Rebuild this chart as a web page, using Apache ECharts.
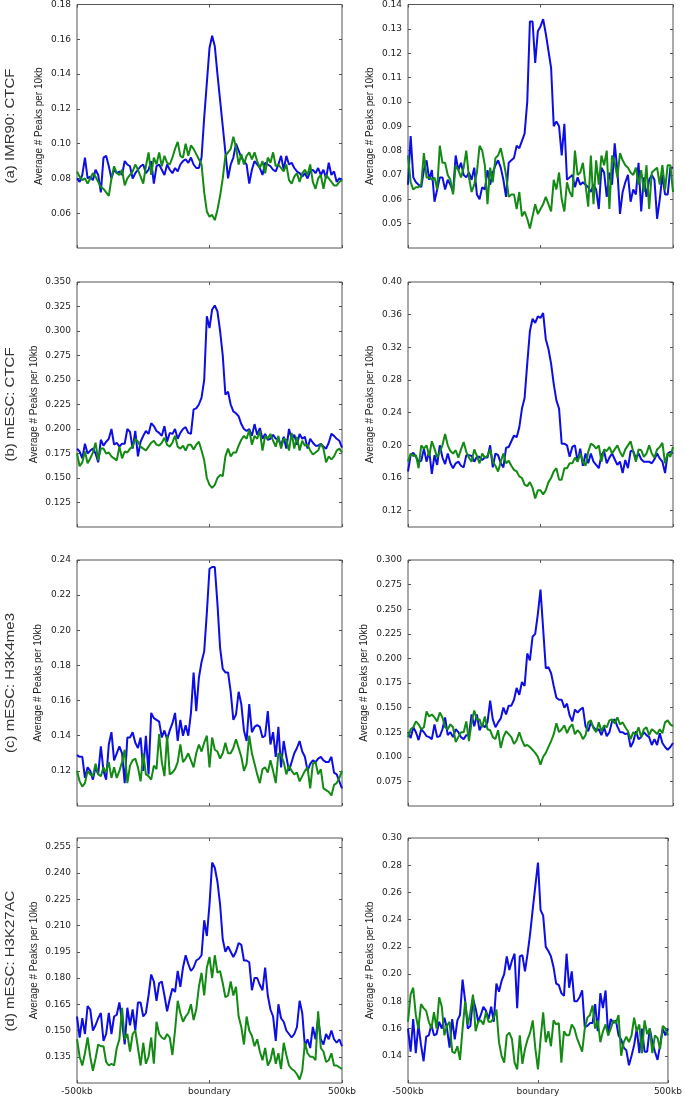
<!DOCTYPE html>
<html><head><meta charset="utf-8">
<script src="https://cdn.jsdelivr.net/npm/echarts@6/dist/echarts.min.js"></script>
<style>html,body{margin:0;padding:0;background:#fff}#c{width:685px;height:1096px}</style>
</head><body><div id="c"></div>
<script>
// ---- categories: 101 bins of 10kb around the domain boundary ----
const positionsKb = Array.from({length: 101}, (_, i) => -500 + 10 * i);
const xTickValues = [-500, 0, 500];
const xTickLabels = ['-500kb', 'boundary', '500kb'];
const rowTitles = ['(a) IMR90: CTCF', '(b) mESC: CTCF', '(c) mESC: H3K4me3', '(d) mESC: H3K27AC'];
const yAxisTitle = 'Average # Peaks per 10kb';

// ---- tick labels ----
const aLeftTicks = [0.06,0.08,0.10,0.12,0.14,0.16,0.18];
const aRightTicks = [0.05,0.06,0.07,0.08,0.09,0.10,0.11,0.12,0.13,0.14];
const bLeftTicks = [0.125,0.150,0.175,0.200,0.225,0.250,0.275,0.300,0.325,0.350];
const bRightTicks = [0.12,0.16,0.20,0.24,0.28,0.32,0.36,0.40];
const cLeftTicks = [0.12,0.14,0.16,0.18,0.20,0.22,0.24];
const cRightTicks = [0.075,0.100,0.125,0.150,0.175,0.200,0.225,0.250,0.275,0.300];
const dLeftTicks = [0.135,0.150,0.165,0.180,0.195,0.210,0.225,0.240,0.255];
const dRightTicks = [0.14,0.16,0.18,0.20,0.22,0.24,0.26,0.28,0.30];

// ---- series values ----
const aLeftBlue = [0.080,0.078,0.082,0.092,0.080,0.081,0.079,0.085,0.082,0.072,
 0.092,0.093,0.087,0.080,0.085,0.083,0.084,0.082,0.090,0.088,
 0.087,0.080,0.083,0.085,0.087,0.088,0.083,0.085,0.090,0.077,
 0.087,0.088,0.085,0.082,0.088,0.085,0.083,0.086,0.084,0.088,
 0.090,0.091,0.089,0.092,0.088,0.086,0.086,0.092,0.115,0.135,
 0.155,0.162,0.156,0.140,0.125,0.110,0.095,0.080,0.088,0.092,
 0.100,0.096,0.092,0.090,0.088,0.077,0.085,0.090,0.088,0.086,
 0.082,0.089,0.088,0.087,0.085,0.084,0.088,0.093,0.085,0.093,
 0.088,0.089,0.086,0.084,0.083,0.081,0.083,0.080,0.084,0.085,
 0.083,0.086,0.082,0.085,0.080,0.089,0.082,0.084,0.078,0.080,
 0.079];
const aLeftGreen = [0.084,0.081,0.079,0.080,0.077,0.080,0.083,0.081,0.078,0.075,
 0.074,0.072,0.070,0.080,0.087,0.083,0.082,0.085,0.076,0.080,
 0.082,0.084,0.088,0.085,0.081,0.077,0.087,0.095,0.082,0.092,
 0.088,0.095,0.087,0.093,0.089,0.088,0.092,0.097,0.101,0.093,
 0.092,0.100,0.093,0.099,0.097,0.094,0.091,0.088,0.072,0.061,
 0.058,0.059,0.056,0.062,0.070,0.080,0.093,0.095,0.097,0.104,
 0.098,0.088,0.094,0.088,0.093,0.095,0.091,0.095,0.090,0.086,
 0.090,0.083,0.092,0.089,0.095,0.087,0.088,0.086,0.084,0.088,
 0.079,0.077,0.081,0.083,0.078,0.083,0.085,0.082,0.088,0.078,
 0.074,0.080,0.082,0.074,0.082,0.080,0.078,0.076,0.076,0.078,
 0.079];
const aRightBlue = [0.066,0.086,0.069,0.067,0.066,0.065,0.072,0.076,0.068,0.072,
 0.059,0.064,0.069,0.069,0.064,0.068,0.066,0.063,0.078,0.072,
 0.075,0.070,0.069,0.071,0.068,0.073,0.062,0.060,0.065,0.064,
 0.072,0.066,0.071,0.074,0.076,0.073,0.068,0.061,0.075,0.076,
 0.077,0.082,0.081,0.084,0.087,0.100,0.133,0.133,0.116,0.129,
 0.131,0.134,0.128,0.121,0.114,0.090,0.092,0.090,0.078,0.091,
 0.068,0.069,0.070,0.065,0.069,0.066,0.067,0.066,0.065,0.063,
 0.066,0.064,0.056,0.073,0.071,0.061,0.071,0.066,0.083,0.072,
 0.054,0.063,0.067,0.070,0.059,0.064,0.062,0.075,0.055,0.069,
 0.061,0.068,0.070,0.068,0.052,0.060,0.070,0.062,0.062,0.073,
 0.073];
const aRightGreen = [0.078,0.067,0.064,0.065,0.065,0.066,0.079,0.069,0.069,0.068,
 0.069,0.064,0.082,0.075,0.075,0.070,0.068,0.062,0.074,0.072,
 0.069,0.073,0.080,0.069,0.063,0.066,0.071,0.082,0.080,0.074,
 0.058,0.073,0.067,0.077,0.078,0.081,0.076,0.070,0.061,0.062,
 0.062,0.056,0.063,0.053,0.055,0.052,0.048,0.053,0.058,0.054,
 0.056,0.058,0.061,0.058,0.055,0.068,0.064,0.071,0.060,0.055,
 0.067,0.063,0.061,0.080,0.070,0.071,0.075,0.066,0.057,0.078,
 0.058,0.076,0.066,0.078,0.074,0.080,0.056,0.078,0.075,0.069,
 0.079,0.076,0.074,0.073,0.071,0.070,0.073,0.066,0.072,0.063,
 0.074,0.056,0.071,0.072,0.073,0.066,0.074,0.064,0.074,0.074,
 0.063];
const bLeftBlue = [0.180,0.177,0.170,0.185,0.175,0.178,0.180,0.175,0.166,0.189,
 0.183,0.187,0.190,0.200,0.184,0.186,0.182,0.185,0.185,0.200,
 0.197,0.180,0.198,0.172,0.187,0.193,0.198,0.195,0.206,0.203,
 0.198,0.196,0.193,0.203,0.187,0.196,0.195,0.200,0.190,0.196,
 0.200,0.202,0.196,0.195,0.220,0.221,0.225,0.232,0.250,0.315,
 0.303,0.322,0.326,0.320,0.300,0.275,0.235,0.238,0.225,0.218,
 0.216,0.213,0.205,0.200,0.198,0.200,0.193,0.205,0.194,0.201,
 0.190,0.195,0.189,0.190,0.194,0.190,0.190,0.183,0.192,0.180,
 0.200,0.190,0.194,0.184,0.195,0.190,0.192,0.180,0.190,0.186,
 0.183,0.183,0.185,0.182,0.180,0.186,0.195,0.193,0.190,0.188,
 0.181];
const bLeftGreen = [0.175,0.162,0.166,0.177,0.165,0.170,0.176,0.186,0.168,0.180,
 0.180,0.175,0.176,0.172,0.170,0.168,0.182,0.170,0.177,0.176,
 0.180,0.182,0.190,0.187,0.182,0.180,0.178,0.182,0.186,0.188,
 0.184,0.183,0.186,0.191,0.184,0.182,0.186,0.193,0.182,0.180,
 0.183,0.178,0.184,0.184,0.179,0.184,0.187,0.178,0.168,0.150,
 0.143,0.140,0.143,0.150,0.153,0.152,0.172,0.180,0.172,0.176,
 0.176,0.183,0.189,0.193,0.190,0.199,0.184,0.193,0.190,0.198,
 0.178,0.193,0.190,0.195,0.188,0.182,0.193,0.180,0.190,0.189,
 0.178,0.196,0.180,0.192,0.178,0.188,0.183,0.184,0.178,0.174,
 0.176,0.178,0.185,0.180,0.166,0.172,0.169,0.172,0.178,0.180,
 0.176];
const bRightBlue = [0.168,0.188,0.191,0.186,0.180,0.181,0.196,0.180,0.193,0.165,
 0.188,0.176,0.200,0.185,0.177,0.190,0.178,0.172,0.178,0.180,
 0.175,0.173,0.188,0.188,0.187,0.180,0.186,0.186,0.182,0.185,
 0.185,0.200,0.173,0.190,0.188,0.178,0.173,0.197,0.198,0.205,
 0.212,0.210,0.222,0.245,0.258,0.300,0.340,0.355,0.350,0.358,
 0.356,0.362,0.330,0.318,0.300,0.275,0.255,0.245,0.202,0.202,
 0.200,0.186,0.198,0.200,0.180,0.196,0.175,0.190,0.178,0.190,
 0.180,0.176,0.172,0.188,0.193,0.178,0.185,0.190,0.183,0.176,
 0.180,0.166,0.182,0.172,0.193,0.193,0.184,0.190,0.183,0.180,
 0.180,0.180,0.178,0.183,0.190,0.184,0.180,0.166,0.190,0.192,
 0.190];
const bRightGreen = [0.180,0.190,0.187,0.188,0.172,0.200,0.196,0.200,0.187,0.205,
 0.196,0.185,0.192,0.200,0.214,0.200,0.193,0.190,0.194,0.185,
 0.195,0.204,0.192,0.185,0.180,0.195,0.187,0.178,0.190,0.185,
 0.187,0.195,0.180,0.175,0.168,0.180,0.190,0.178,0.181,0.175,
 0.170,0.168,0.162,0.160,0.152,0.150,0.155,0.148,0.135,0.145,
 0.145,0.140,0.145,0.155,0.160,0.168,0.172,0.158,0.158,0.172,
 0.172,0.178,0.178,0.185,0.180,0.190,0.180,0.175,0.192,0.202,
 0.200,0.196,0.200,0.180,0.195,0.193,0.198,0.190,0.195,0.200,
 0.192,0.186,0.195,0.200,0.205,0.192,0.180,0.195,0.194,0.186,
 0.190,0.200,0.190,0.185,0.195,0.198,0.203,0.178,0.190,0.186,
 0.198];
const cLeftBlue = [0.129,0.128,0.128,0.116,0.122,0.120,0.115,0.122,0.118,0.134,
 0.120,0.115,0.135,0.142,0.126,0.130,0.134,0.130,0.113,0.139,
 0.139,0.142,0.136,0.133,0.139,0.120,0.140,0.118,0.153,0.150,
 0.149,0.148,0.139,0.143,0.138,0.143,0.147,0.153,0.137,0.149,
 0.140,0.146,0.140,0.153,0.176,0.154,0.173,0.182,0.188,0.210,
 0.235,0.236,0.236,0.215,0.190,0.178,0.176,0.176,0.165,0.149,
 0.152,0.165,0.158,0.143,0.137,0.158,0.142,0.145,0.146,0.145,
 0.139,0.140,0.154,0.135,0.142,0.128,0.145,0.122,0.137,0.128,
 0.120,0.125,0.130,0.133,0.137,0.131,0.128,0.120,0.124,0.126,
 0.125,0.127,0.128,0.126,0.125,0.125,0.128,0.119,0.118,0.114,
 0.110];
const cLeftGreen = [0.120,0.114,0.111,0.113,0.120,0.118,0.117,0.124,0.118,0.117,
 0.122,0.119,0.125,0.116,0.122,0.116,0.120,0.125,0.132,0.113,
 0.123,0.126,0.127,0.122,0.114,0.130,0.118,0.117,0.115,0.123,
 0.121,0.141,0.125,0.117,0.140,0.118,0.119,0.121,0.125,0.135,
 0.125,0.127,0.130,0.126,0.122,0.130,0.135,0.131,0.136,0.140,
 0.122,0.139,0.132,0.131,0.127,0.130,0.136,0.130,0.130,0.133,
 0.138,0.133,0.128,0.120,0.124,0.140,0.130,0.124,0.118,0.113,
 0.121,0.122,0.119,0.126,0.120,0.113,0.130,0.129,0.125,0.118,
 0.123,0.120,0.118,0.119,0.114,0.117,0.120,0.122,0.110,0.124,
 0.125,0.118,0.121,0.110,0.109,0.108,0.106,0.112,0.113,0.116,
 0.120];
const cRightBlue = [0.125,0.119,0.130,0.125,0.117,0.128,0.125,0.121,0.120,0.118,
 0.133,0.120,0.121,0.128,0.140,0.122,0.125,0.120,0.128,0.125,
 0.120,0.118,0.122,0.122,0.143,0.131,0.143,0.127,0.133,0.130,
 0.135,0.157,0.138,0.130,0.135,0.139,0.150,0.143,0.152,0.152,
 0.158,0.170,0.163,0.176,0.172,0.205,0.198,0.222,0.225,0.245,
 0.270,0.230,0.190,0.191,0.185,0.172,0.160,0.158,0.158,0.150,
 0.154,0.142,0.136,0.148,0.145,0.148,0.150,0.131,0.126,0.135,
 0.130,0.127,0.128,0.122,0.130,0.121,0.125,0.136,0.138,0.131,
 0.125,0.125,0.123,0.124,0.110,0.115,0.126,0.118,0.120,0.125,
 0.122,0.120,0.112,0.118,0.112,0.124,0.114,0.110,0.107,0.110,
 0.114];
const cRightGreen = [0.120,0.128,0.130,0.136,0.133,0.128,0.130,0.146,0.141,0.143,
 0.140,0.136,0.145,0.140,0.130,0.128,0.133,0.130,0.115,0.120,
 0.125,0.125,0.136,0.116,0.135,0.147,0.138,0.138,0.130,0.141,
 0.128,0.127,0.120,0.118,0.127,0.109,0.120,0.126,0.123,0.120,
 0.113,0.117,0.125,0.117,0.111,0.112,0.110,0.107,0.104,0.100,
 0.092,0.100,0.104,0.110,0.116,0.123,0.134,0.125,0.128,0.132,
 0.124,0.130,0.133,0.123,0.127,0.124,0.118,0.122,0.135,0.137,
 0.129,0.125,0.135,0.126,0.132,0.130,0.137,0.138,0.134,0.140,
 0.133,0.135,0.130,0.126,0.118,0.125,0.122,0.130,0.120,0.128,
 0.130,0.122,0.128,0.126,0.123,0.128,0.124,0.135,0.137,0.133,
 0.131];
const dLeftBlue = [0.158,0.146,0.157,0.148,0.164,0.162,0.150,0.153,0.157,0.160,
 0.144,0.148,0.160,0.148,0.158,0.159,0.166,0.155,0.142,0.163,
 0.153,0.162,0.150,0.166,0.166,0.158,0.160,0.170,0.182,0.178,
 0.167,0.177,0.178,0.170,0.161,0.168,0.174,0.172,0.184,0.175,
 0.186,0.193,0.188,0.184,0.186,0.190,0.191,0.193,0.213,0.204,
 0.222,0.246,0.243,0.235,0.222,0.202,0.195,0.198,0.195,0.192,
 0.195,0.200,0.199,0.190,0.190,0.189,0.173,0.180,0.180,0.176,
 0.173,0.186,0.170,0.162,0.158,0.144,0.165,0.157,0.155,0.150,
 0.148,0.146,0.148,0.152,0.167,0.160,0.141,0.145,0.140,0.152,
 0.145,0.157,0.145,0.142,0.148,0.145,0.150,0.145,0.143,0.145,
 0.141];
const dLeftGreen = [0.145,0.135,0.130,0.137,0.146,0.135,0.127,0.134,0.142,0.141,
 0.141,0.132,0.130,0.131,0.130,0.140,0.145,0.163,0.145,0.148,
 0.138,0.148,0.150,0.140,0.130,0.143,0.131,0.135,0.146,0.131,
 0.155,0.148,0.146,0.145,0.148,0.146,0.136,0.150,0.167,0.160,
 0.155,0.158,0.160,0.165,0.156,0.162,0.175,0.183,0.170,0.186,
 0.192,0.180,0.193,0.183,0.184,0.177,0.169,0.170,0.178,0.170,
 0.175,0.158,0.152,0.142,0.158,0.150,0.147,0.141,0.145,0.138,
 0.133,0.140,0.130,0.133,0.140,0.131,0.137,0.128,0.143,0.136,
 0.130,0.128,0.127,0.125,0.122,0.127,0.143,0.137,0.135,0.135,
 0.133,0.161,0.140,0.138,0.132,0.133,0.137,0.130,0.130,0.129,
 0.128];
const dRightBlue = [0.160,0.143,0.167,0.142,0.163,0.148,0.136,0.154,0.155,0.163,
 0.155,0.156,0.165,0.160,0.168,0.160,0.146,0.167,0.152,0.166,
 0.170,0.196,0.180,0.160,0.162,0.182,0.175,0.165,0.170,0.176,
 0.173,0.167,0.176,0.165,0.193,0.187,0.195,0.200,0.213,0.203,
 0.210,0.215,0.175,0.213,0.214,0.202,0.215,0.230,0.248,0.265,
 0.282,0.247,0.243,0.220,0.217,0.213,0.205,0.193,0.192,0.186,
 0.184,0.215,0.190,0.202,0.180,0.180,0.183,0.188,0.161,0.162,
 0.164,0.164,0.178,0.158,0.186,0.175,0.188,0.155,0.167,0.164,
 0.166,0.155,0.152,0.146,0.144,0.133,0.140,0.148,0.160,0.142,
 0.160,0.143,0.143,0.160,0.150,0.143,0.137,0.148,0.160,0.155,
 0.160];
const dRightGreen = [0.165,0.185,0.190,0.170,0.160,0.178,0.175,0.173,0.165,0.160,
 0.172,0.160,0.183,0.176,0.155,0.162,0.165,0.143,0.142,0.147,
 0.137,0.160,0.180,0.163,0.172,0.185,0.158,0.165,0.166,0.163,
 0.172,0.165,0.165,0.168,0.174,0.150,0.140,0.135,0.155,0.157,
 0.152,0.135,0.130,0.155,0.134,0.145,0.152,0.157,0.166,0.145,
 0.130,0.152,0.172,0.150,0.158,0.147,0.166,0.163,0.164,0.135,
 0.158,0.155,0.155,0.163,0.160,0.153,0.148,0.143,0.160,0.168,
 0.170,0.177,0.160,0.166,0.150,0.158,0.163,0.155,0.160,0.166,
 0.164,0.170,0.140,0.150,0.154,0.150,0.155,0.168,0.158,0.163,
 0.142,0.166,0.156,0.160,0.142,0.155,0.153,0.145,0.162,0.160,
 0.155];

// ---- panel table built from the arrays above ----
const panels = [
  {row:0, col:0, blue:aLeftBlue,  green:aLeftGreen,  min:0.04, max:0.18, ticks:aLeftTicks,  dec:2, gap:33},
  {row:0, col:1, blue:aRightBlue, green:aRightGreen, min:0.04, max:0.14, ticks:aRightTicks, dec:2, gap:33},
  {row:1, col:0, blue:bLeftBlue,  green:bLeftGreen,  min:0.10, max:0.35, ticks:bLeftTicks,  dec:3, gap:38},
  {row:1, col:1, blue:bRightBlue, green:bRightGreen, min:0.10, max:0.40, ticks:bRightTicks, dec:2, gap:33},
  {row:2, col:0, blue:cLeftBlue,  green:cLeftGreen,  min:0.10, max:0.24, ticks:cLeftTicks,  dec:2, gap:34},
  {row:2, col:1, blue:cRightBlue, green:cRightGreen, min:0.05, max:0.30, ticks:cRightTicks, dec:3, gap:39},
  {row:3, col:0, blue:dLeftBlue,  green:dLeftGreen,  min:0.12, max:0.26, ticks:dLeftTicks,  dec:3, gap:38},
  {row:3, col:1, blue:dRightBlue, green:dRightGreen, min:0.12, max:0.30, ticks:dRightTicks, dec:2, gap:33}
];

const colLeft = [77, 408];
const plotW = 265;
const rowTop = [4, 282, 560, 838];
const plotH = [244, 245, 246, 246];
const BLUE = '#0d0de6', GREEN = '#138a13';
const frame = '#555', txt = '#222';

const grid = [], xAxis = [], yAxis = [], series = [];
panels.forEach((p, k) => {
  grid.push({left: colLeft[p.col], top: rowTop[p.row], width: plotW, height: plotH[p.row],
    show: true, borderColor: frame, borderWidth: 1, backgroundColor: 'transparent', containLabel: false});
  const isBottom = p.row === 3;
  const xBase = {type: 'value', gridIndex: k, min: -500, max: 500,
    splitLine: {show: false}, axisLine: {show: false, onZero: false},
    axisTick: {show: true, inside: true, length: 3, customValues: xTickValues, lineStyle: {color: frame}}};
  xAxis.push(Object.assign({}, xBase, {position: 'bottom',
    axisLabel: {show: isBottom, customValues: xTickValues, margin: 4,
      formatter: v => xTickLabels[xTickValues.indexOf(v)] || '',
      fontFamily: 'DejaVu Sans', fontSize: 9, color: txt}}));
  xAxis.push(Object.assign({}, xBase, {position: 'top', axisLabel: {show: false}}));
  const yBase = {type: 'value', gridIndex: k, min: p.min, max: p.max,
    splitLine: {show: false}, axisLine: {show: false, onZero: false},
    axisTick: {show: true, inside: true, length: 3, customValues: p.ticks, lineStyle: {color: frame}}};
  yAxis.push(Object.assign({}, yBase, {position: 'left',
    name: yAxisTitle, nameLocation: 'middle', nameGap: p.gap,
    nameTextStyle: {fontFamily: 'Liberation Sans', fontSize: 10, color: txt},
    axisLabel: {customValues: p.ticks, margin: 6, formatter: v => v.toFixed(p.dec),
      fontFamily: 'DejaVu Sans', fontSize: 9, color: txt}}));
  yAxis.push(Object.assign({}, yBase, {position: 'right', axisLabel: {show: false}}));
  [[p.blue, BLUE], [p.green, GREEN]].forEach(([vals, color]) => {
    series.push({type: 'line', xAxisIndex: 2 * k, yAxisIndex: 2 * k,
      data: positionsKb.map((x, i) => [x, vals[i]]),
      symbol: 'none', showSymbol: false, lineStyle: {width: 2, color: color}, itemStyle: {color: color},
      animation: false, silent: true});
  });
});

const graphic = rowTitles.map((t, r) => ({
  type: 'text', x: 11, y: rowTop[r] + plotH[r] / 2, rotation: Math.PI / 2, scaleY: 0.8,
  style: {text: t, fontFamily: 'Liberation Sans', fontSize: 15, fill: '#333', align: 'center', verticalAlign: 'middle'}
}));

const chart = echarts.init(document.getElementById('c'), null, {renderer: 'canvas'});
chart.setOption({animation: false, backgroundColor: '#fff', grid, xAxis, yAxis, series, graphic});
</script></body></html>
